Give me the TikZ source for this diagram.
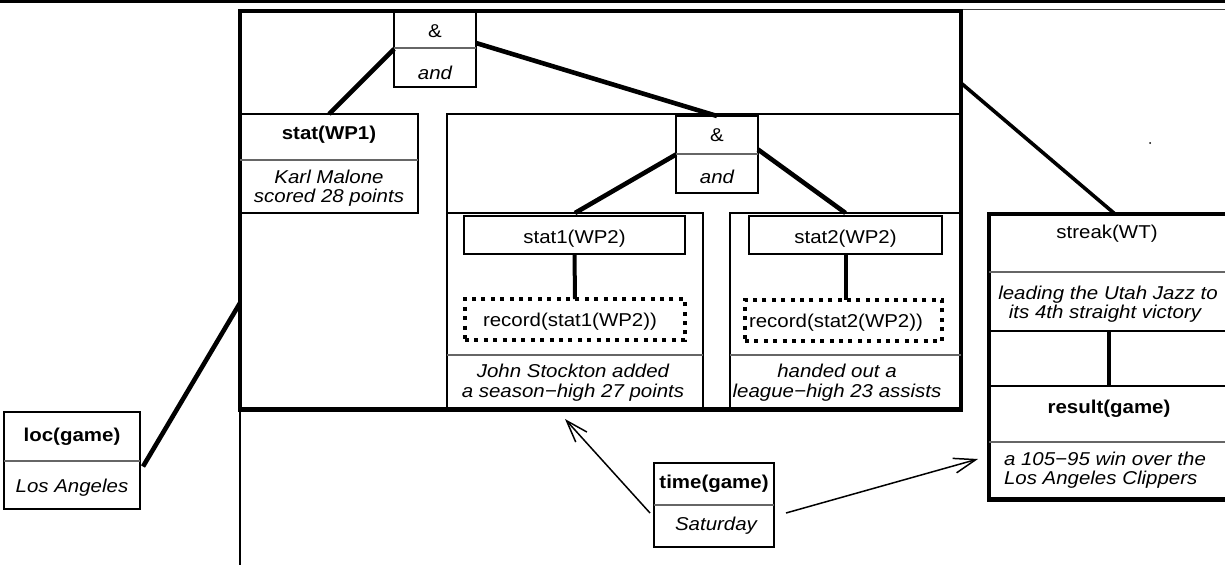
\documentclass[tikz,border=0pt]{standalone}
\usepackage{fontspec}
\setmainfont{Liberation Sans}[FakeStretch=1.10]
\usetikzlibrary{arrows.meta,calc}
\begin{document}
\begin{tikzpicture}[x=1pt,y=-1pt,
  every node/.style={inner sep=0pt, outer sep=0pt},
  frame/.style={draw, line width=2pt, anchor=north west},
  heavyframe/.style={draw, line width=4.5pt, anchor=north west},
  dotframe/.style={draw, line width=4pt, dash pattern=on 4pt off 5.4pt, anchor=north west},
  sep/.style={line width=1.3pt, black!60},
  blk/.style={line width=2pt},
  conn/.style={line width=4.6pt},
  txt/.style={anchor=base, font=\fontsize{18.6}{20}\selectfont},
  btxt/.style={anchor=base, font=\fontsize{18.6}{20}\selectfont\bfseries},
  itxt/.style={anchor=base, font=\fontsize{18.6}{20}\selectfont\itshape},
  arr/.style={line width=1.5pt, -{Straight Barb[length=22pt,width=15pt]}}
]
\useasboundingbox (0,0) rectangle (1225,565);

% top rules
\draw[line width=2.7pt] (0,1.35) -- (1225,1.35);
\draw[line width=1.3pt, black!75] (961,9.5) -- (1225,9.5);

% big box
\node[heavyframe, minimum width=721pt, minimum height=398.5pt] (big) at (240,11) {};
\coordinate (bigfoot) at (240,565);
\draw[line width=1.7pt] (big.south west) -- (bigfoot);

% top & box
\node[frame, minimum width=82pt, minimum height=76pt] (topand) at (394,11) {};
\draw[sep] (394,48) -- (476,48);
\node[txt] (topamp) at (435,37) {\&};
\node[itxt] (topandtxt) at (435,79) {and};

% stat(WP1)
\node[frame, minimum width=178pt, minimum height=99pt] (statwp1) at (240,114) {};
\draw[sep] (240,160) -- (418,160);
\node[btxt] (statwp1t) at (329,139) {stat(WP1)};
\node[itxt] (statwp1a) at (329,183) {Karl Malone};
\node[itxt] (statwp1b) at (329,202) {scored 28 points};

% container
\node[frame, minimum width=514pt, minimum height=295.5pt] (cont) at (447,114) {};

% inner & box
\node[frame, minimum width=82pt, minimum height=77pt] (inand) at (676,116) {};
\draw[sep] (676,154) -- (758,154);
\node[txt] (inamp) at (717,141) {\&};
\node[itxt] (inandtxt) at (717,183) {and};

% panels
\node[frame, minimum width=256pt, minimum height=196.5pt] (pan1) at (447,213) {};
\node[frame, minimum width=231pt, minimum height=196.5pt] (pan2) at (730,213) {};
\draw[sep] (447,355) -- (703,355);
\draw[sep] (730,355) -- (961,355);

% panel 1
\node[frame, minimum width=221pt, minimum height=38pt] (stat1) at (464,216) {};
\node[txt] (stat1t) at (574.5,243) {stat1(WP2)};
\node[dotframe, minimum width=220pt, minimum height=41pt] (rec1) at (465,299) {};
\node[txt] (rec1t) at (570,326) {record(stat1(WP2))};
\node[itxt] (pan1a) at (573,377) {John Stockton added};
\node[itxt] (pan1b) at (573,397) {a season−high 27 points};

% panel 2
\node[frame, minimum width=193pt, minimum height=38pt] (stat2) at (749,216) {};
\node[txt] (stat2t) at (845.5,243) {stat2(WP2)};
\node[dotframe, minimum width=197pt, minimum height=41pt] (rec2) at (745,300) {};
\node[txt] (rec2t) at (836,327) {record(stat2(WP2))};
\node[itxt] (pan2a) at (837,377) {handed out a};
\node[itxt] (pan2b) at (837,397) {league−high 23 assists};

% streak / result box
\node[heavyframe, minimum width=239pt, minimum height=285.5pt] (streak) at (989,214) {};
\draw[sep] (989,272) -- (1228,272);
\draw[blk] (989,331) -- (1228,331);
\draw[blk] (989,386) -- (1228,386);
\draw[sep] (989,442) -- (1228,442);
\node[txt] (streakt) at (1107,238) {streak(WT)};
\node[itxt] (streaka) at (1108,299) {leading the Utah Jazz to};
\node[itxt] (streakb) at (1105,318) {its 4th straight victory};
\node[btxt] (resultt) at (1109,413) {result(game)};
\node[itxt, anchor=base west] (resulta) at (1004,465) {a 105−95 win over the};
\node[itxt, anchor=base west] (resultb) at (1004,484) {Los Angeles Clippers};
\coordinate (streakfoot) at (1109,331);
\coordinate (resulthead) at (1109,386);
\draw[line width=4pt] (streakfoot) -- (resulthead);

% loc(game)
\node[frame, minimum width=136pt, minimum height=97pt] (loc) at (4,412) {};
\draw[sep] (4,461) -- (140,461);
\node[btxt] (loct) at (72,441) {loc(game)};
\node[itxt] (loca) at (72,492) {Los Angeles};

% time(game)
\node[frame, minimum width=120pt, minimum height=84pt] (time) at (654,463) {};
\draw[sep] (654,505) -- (774,505);
\node[btxt] (timet) at (714,488) {time(game)};
\node[itxt] (timea) at (716,530) {Saturday};

% connectors
\draw[conn] (topand.west) -- (statwp1.north);
\draw[conn] ([yshift=6pt]topand.east) -- (inand.north);
\draw[conn] (inand.west) -- (pan1.north);
\draw[conn] ([yshift=5pt]inand.east) -- (pan2.north);
\draw[line width=4pt] (stat1.south) -- (rec1.north);
\draw[line width=4pt] (stat2.south) -- (stat2.south |- rec2.north);
\coordinate (bigR) at (961,83);
\draw[line width=3.6pt] (bigR) -- ([xshift=6.5pt]streak.north);
\coordinate (bigL) at (240,303);
\draw[conn] ([xshift=3pt,yshift=-6pt]loc.east) -- (bigL);
\coordinate (tip1) at (565,419);
\draw[arr] ([xshift=-4pt,yshift=-8pt]time.west) -- (tip1);
\coordinate (tip2) at (978,459);
\draw[arr] ([xshift=12pt,yshift=-8pt]time.east) -- (tip2);

% stray dot
\fill (1150,143) circle (1pt);
\end{tikzpicture}
\end{document}
